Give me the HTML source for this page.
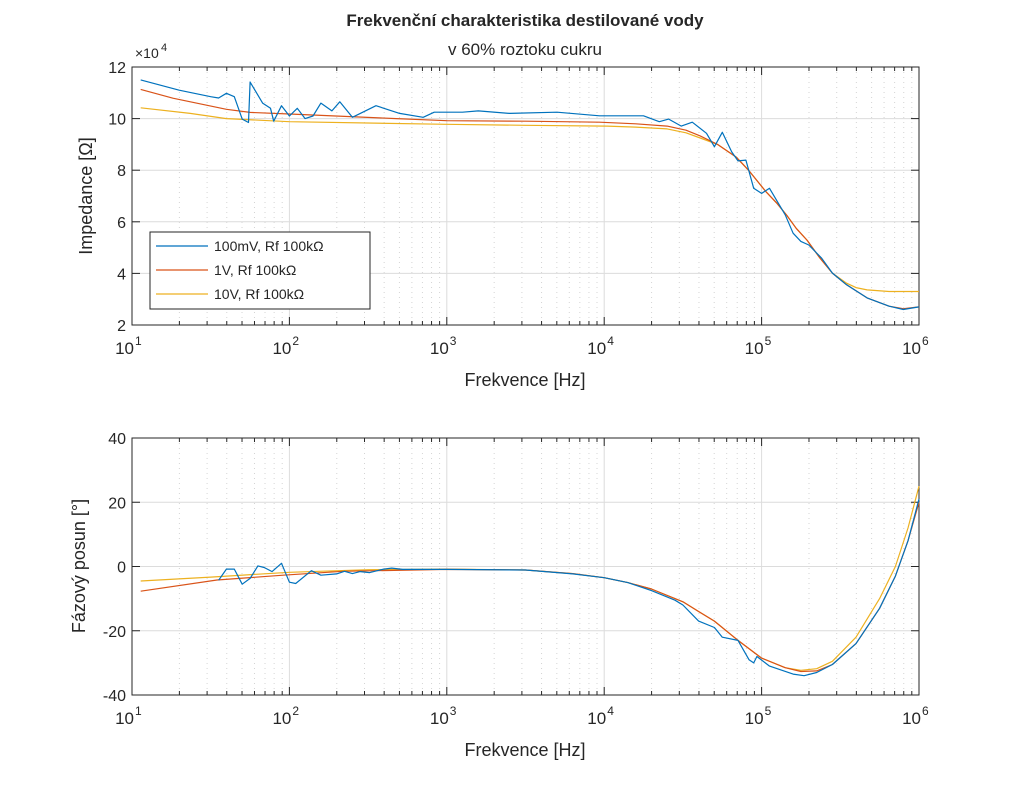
<!DOCTYPE html>
<html><head><meta charset="utf-8"><style>
body{margin:0;background:#fff;font-family:"Liberation Sans",Arial,sans-serif}
svg text{font-family:"Liberation Sans",Arial,sans-serif;fill:#262626}
</style></head><body>
<svg id="c" width="1016" height="781" xmlns="http://www.w3.org/2000/svg"></svg>
<script>
// ---- data (log10 of frequency, value) ----
const zBlueX=[1.055,1.3,1.5,1.55,1.6,1.65,1.7,1.74,1.75,1.83,1.88,1.9,1.95,2.0,2.05,2.1,2.15,2.2,2.27,2.32,2.4,2.55,2.7,2.85,2.92,3.1,3.2,3.4,3.7,3.97,4.25,4.35,4.41,4.49,4.56,4.65,4.70,4.75,4.81,4.85,4.9,4.95,5.0,5.05,5.15,5.2,5.25,5.3,5.38,5.45,5.54,5.67,5.81,5.9,6.0];
const zBlueY=[11.5,11.1,10.85,10.8,10.98,10.85,9.98,9.85,11.42,10.6,10.4,9.9,10.5,10.1,10.4,10.0,10.1,10.6,10.3,10.65,10.05,10.5,10.2,10.05,10.25,10.25,10.3,10.2,10.25,10.11,10.11,9.88,9.98,9.71,9.86,9.43,8.91,9.47,8.71,8.36,8.39,7.3,7.1,7.3,6.27,5.56,5.24,5.1,4.6,4.01,3.56,3.05,2.73,2.6,2.7];
const zOrX=[1.055,1.26,1.6,1.75,2.0,2.68,3.0,3.5,3.97,4.2,4.4,4.52,4.61,4.72,4.84,4.92,5.03,5.1,5.16,5.22,5.29,5.37,5.45,5.54,5.67,5.81,5.9,6.0];
const zOrY=[11.13,10.79,10.36,10.24,10.18,10.0,9.92,9.9,9.86,9.8,9.71,9.55,9.33,9.0,8.5,7.98,7.15,6.7,6.25,5.75,5.28,4.6,4.01,3.56,3.05,2.73,2.63,2.7];
const zYeX=[1.055,1.37,1.6,2.0,3.0,3.5,4.02,4.2,4.4,4.52,4.61,4.72,4.84,4.92,5.03,5.1,5.16,5.22,5.29,5.37,5.45,5.54,5.6,5.67,5.81,6.0];
const zYeY=[10.42,10.2,10.0,9.88,9.78,9.74,9.71,9.67,9.6,9.45,9.25,9.0,8.5,7.98,7.15,6.7,6.25,5.75,5.28,4.6,4.01,3.62,3.45,3.36,3.3,3.3];
const pBlueX=[1.55,1.6,1.65,1.7,1.75,1.8,1.84,1.89,1.95,2.0,2.04,2.14,2.2,2.3,2.35,2.4,2.45,2.51,2.6,2.65,2.72,3.0,3.5,3.8,4.0,4.15,4.3,4.45,4.5,4.6,4.7,4.75,4.85,4.92,4.95,4.97,5.05,5.2,5.27,5.35,5.45,5.6,5.75,5.85,5.93,6.0];
const pBlueV=[-4.3,-0.8,-0.8,-5.5,-3.7,0.2,-0.3,-1.6,1.0,-4.9,-5.3,-1.3,-2.7,-2.3,-1.5,-2.2,-1.6,-1.9,-0.8,-0.5,-0.9,-0.9,-1.1,-2.3,-3.5,-5,-7.5,-10.5,-12,-17,-19,-22,-23,-29,-30,-28,-31,-33.5,-34,-33,-30.5,-24,-13,-3,8,21];
const pOrX=[1.055,1.54,1.96,2.34,3.0,3.5,3.8,4.0,4.15,4.3,4.5,4.6,4.7,4.85,5.0,5.15,5.25,5.35,5.45,5.6,5.75,5.85,5.93,6.0];
const pOrV=[-7.7,-4.2,-2.7,-1.5,-0.9,-1.1,-2.2,-3.5,-5,-7,-11,-14,-17,-23,-28.5,-31.5,-32.7,-32.5,-30.5,-24,-13,-3,8,20];
const pYeX=[1.055,1.5,2.0,2.5,3.0,3.5,3.8,4.0,4.15,4.3,4.5,4.6,4.7,4.85,5.0,5.15,5.25,5.35,5.45,5.6,5.75,5.85,5.93,6.0];
const pYeV=[-4.5,-3.3,-1.8,-1.0,-0.8,-1.1,-2.2,-3.5,-5,-7,-11,-14,-17,-23,-28.5,-31.5,-32.3,-31.8,-29.5,-22,-10,0,12,25];
const yTicksTop=[2,4,6,8,10,12];
const yTicksBot=[-40,-20,0,20,40];
const xDecades=[1,2,3,4,5,6];
const names=["100mV, Rf 100k\u03A9","1V, Rf 100k\u03A9","10V, Rf 100k\u03A9"];
const colors=["#0072BD","#D95319","#EDB120"];

const svg=document.getElementById('c');
const NS="http://www.w3.org/2000/svg";
function mk(t,a,p){const e=document.createElementNS(NS,t);for(const k in a)e.setAttribute(k,a[k]);(p||svg).appendChild(e);return e;}
const X0=132,X1=919;
const sx=l=>X0+(l-1)/5*(X1-X0);
function axes(top,bot,ymin,ymax,ticks,name){
  const sy=v=>bot-(v-ymin)/(ymax-ymin)*(bot-top);
  const g=mk('g',{});
  
  
  for(let d=1;d<6;d++)for(let m=2;m<10;m++){const x=sx(d+Math.log10(m));mk('line',{x1:x,x2:x,y1:top,y2:bot,stroke:'#d4d4d4','stroke-dasharray':'1,4','stroke-width':1},g);}
  xDecades.forEach(d=>{const x=sx(d);mk('line',{x1:x,x2:x,y1:top,y2:bot,stroke:'#dcdcdc'},g);});
  ticks.forEach(v=>{mk('line',{x1:X0,x2:X1,y1:sy(v),y2:sy(v),stroke:'#dcdcdc'},g);});
  mk('rect',{x:X0,y:top,width:X1-X0,height:bot-top,fill:'none',stroke:'#262626','stroke-width':1},g);
  ticks.forEach(v=>{const y=sy(v);mk('line',{x1:X0,x2:X0+8,y1:y,y2:y,stroke:'#262626'},g);mk('line',{x1:X1,x2:X1-8,y1:y,y2:y,stroke:'#262626'},g);
    const t=mk('text',{x:X0-6,y:y+6,'text-anchor':'end','font-size':16},g);t.textContent=v;});
  xDecades.forEach(d=>{const x=sx(d);mk('line',{x1:x,x2:x,y1:bot,y2:bot-8,stroke:'#262626'},g);mk('line',{x1:x,x2:x,y1:top,y2:top+8,stroke:'#262626'},g);
    const t=mk('text',{x:x+2,y:bot+29,'text-anchor':'end','font-size':17},g);t.textContent='10';
    const s=mk('text',{x:x+3,y:bot+20,'font-size':12},g);s.textContent=d;});
  for(let d=1;d<6;d++)for(let m=2;m<10;m++){const x=sx(d+Math.log10(m));mk('line',{x1:x,x2:x,y1:bot,y2:bot-4,stroke:'#262626'},g);mk('line',{x1:x,x2:x,y1:top,y2:top+4,stroke:'#262626'},g);}
  const xl=mk('text',{x:525,y:bot+61,'text-anchor':'middle','font-size':18},g);xl.textContent='Frekvence [Hz]';
  
  return sy;
}
function series(xs,vs,sy,col,nm){
  const d=xs.map((l,i)=>(i?'L':'M')+sx(l).toFixed(1)+','+sy(vs[i]).toFixed(1)).join('');
  const p=mk('path',{d:d,fill:'none',stroke:col,'stroke-width':1.2,'stroke-linejoin':'round'});
  
  
}
const syT=axes(67,325,2,12,yTicksTop,'impedance-axes');
const syB=axes(438,695,-40,40,yTicksBot,'phase-axes');
series(zYeX,zYeY,syT,colors[2],'impedance-10v-line');
series(zOrX,zOrY,syT,colors[1],'impedance-1v-line');
series(zBlueX,zBlueY,syT,colors[0],'impedance-100mv-line');
series(pYeX,pYeV,syB,colors[2],'phase-10v-line');
series(pOrX,pOrV,syB,colors[1],'phase-1v-line');
series(pBlueX,pBlueV,syB,colors[0],'phase-100mv-line');
// labels
let t;
t=mk('text',{x:525,y:26,'text-anchor':'middle','font-size':17,'font-weight':'bold'});t.textContent='Frekvenční charakteristika destilované vody';

t=mk('text',{x:525,y:55,'text-anchor':'middle','font-size':17});t.textContent='v 60% roztoku cukru';

t=mk('text',{x:135,y:58,'font-size':14});t.textContent='\u00D710';

t=mk('text',{x:161,y:51,'font-size':11});t.textContent='4';
t=mk('text',{x:0,y:0,'text-anchor':'middle','font-size':18,transform:'translate(92,196) rotate(-90)'});t.textContent='Impedance [\u03A9]';

t=mk('text',{x:0,y:0,'text-anchor':'middle','font-size':18,transform:'translate(85,566) rotate(-90)'});t.textContent='Fázový posun [°]';

// legend
const lg=mk('g',{});


mk('rect',{x:150,y:232,width:220,height:77,fill:'#fff',stroke:'#262626'},lg);
names.forEach((n,i)=>{const y=246+i*24;
  mk('line',{x1:156,x2:208,y1:y,y2:y,stroke:colors[i],'stroke-width':1.2},lg);
  const e=mk('text',{x:214,y:y+5,'font-size':14},lg);e.textContent=n;
  });
</script>
</body></html>
